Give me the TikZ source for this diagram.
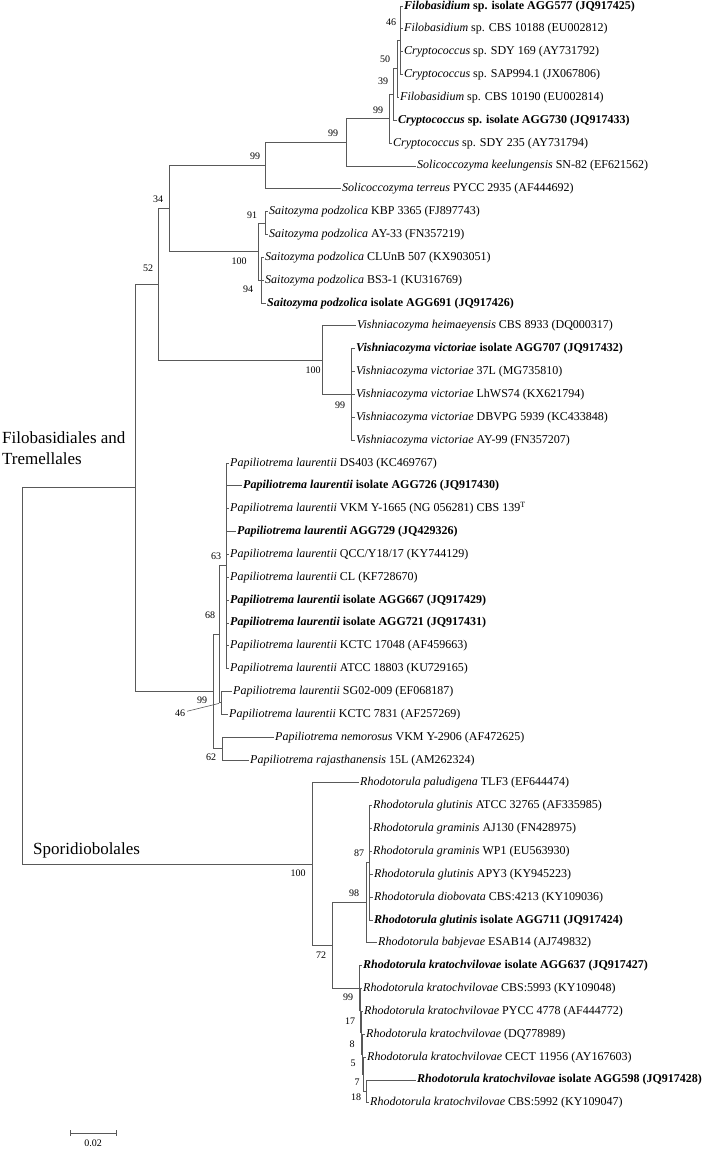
\documentclass[tikz,border=0pt]{standalone}
\usepackage{fontspec}
\setmainfont{Liberation Serif}
\usetikzlibrary{arrows.meta}

% row of leaf i, counted from the top
\pgfmathdeclarefunction{ly}{1}{\pgfmathparse{6+22.85*(#1-1)}}
\newcommand{\taxon}[2]{\textit{#1} #2}
\newcommand{\taxonb}[2]{\textbf{\textit{#1} #2}}

\tikzset{
  branch/.style={draw=black!65, line width=0.9pt},
  leaf/.style={anchor=west, inner sep=1pt, text height=8.5pt, text depth=2.5pt, font=\fontsize{12}{14}\selectfont},
  bs/.style={inner sep=0pt, font=\fontsize{10}{12}\selectfont},
  clade/.style={anchor=west, align=left, inner sep=0pt, font=\fontsize{17}{21}\selectfont},
}

\begin{document}
\begin{tikzpicture}[x=1pt, y=-1pt]
  \useasboundingbox (0,0) rectangle (707,1149);

  % leaves
  \node[leaf] (l1) at (403,{ly(1)}) {\taxonb{Filobasidium}{sp. isolate AGG577 (JQ917425)}};
  \node[leaf] (l2) at (403,{ly(2)}) {\taxon{Filobasidium}{sp. CBS 10188 (EU002812)}};
  \node[leaf] (l3) at (403,{ly(3)}) {\taxon{Cryptococcus}{sp. SDY 169 (AY731792)}};
  \node[leaf] (l4) at (403,{ly(4)}) {\taxon{Cryptococcus}{sp. SAP994.1 (JX067806)}};
  \node[leaf] (l5) at (399,{ly(5)}) {\taxon{Filobasidium}{sp. CBS 10190 (EU002814)}};
  \node[leaf] (l6) at (397,{ly(6)}) {\taxonb{Cryptococcus}{sp. isolate AGG730 (JQ917433)}};
  \node[leaf] (l7) at (392,{ly(7)}) {\taxon{Cryptococcus}{sp. SDY 235 (AY731794)}};
  \node[leaf] (l8) at (416,{ly(8)}) {\taxon{Solicoccozyma keelungensis}{SN-82 (EF621562)}};
  \node[leaf] (l9) at (341,{ly(9)}) {\taxon{Solicoccozyma terreus}{PYCC 2935 (AF444692)}};
  \node[leaf] (l10) at (268,{ly(10)}) {\taxon{Saitozyma podzolica}{KBP 3365 (FJ897743)}};
  \node[leaf] (l11) at (268,{ly(11)}) {\taxon{Saitozyma podzolica}{AY-33 (FN357219)}};
  \node[leaf] (l12) at (264,{ly(12)}) {\taxon{Saitozyma podzolica}{CLUnB 507 (KX903051)}};
  \node[leaf] (l13) at (264,{ly(13)}) {\taxon{Saitozyma podzolica}{BS3-1 (KU316769)}};
  \node[leaf] (l14) at (266,{ly(14)}) {\taxonb{Saitozyma podzolica}{isolate AGG691 (JQ917426)}};
  \node[leaf] (l15) at (356,{ly(15)}) {\taxon{Vishniacozyma heimaeyensis}{CBS 8933 (DQ000317)}};
  \node[leaf] (l16) at (355,{ly(16)}) {\taxonb{Vishniacozyma victoriae}{isolate AGG707 (JQ917432)}};
  \node[leaf] (l17) at (355,{ly(17)}) {\taxon{Vishniacozyma victoriae}{37L (MG735810)}};
  \node[leaf] (l18) at (355,{ly(18)}) {\taxon{Vishniacozyma victoriae}{LhWS74 (KX621794)}};
  \node[leaf] (l19) at (355,{ly(19)}) {\taxon{Vishniacozyma victoriae}{DBVPG 5939 (KC433848)}};
  \node[leaf] (l20) at (355,{ly(20)}) {\taxon{Vishniacozyma victoriae}{AY-99 (FN357207)}};
  \node[leaf] (l21) at (229,{ly(21)}) {\taxon{Papiliotrema laurentii}{DS403 (KC469767)}};
  \node[leaf] (l22) at (242,{ly(22)}) {\taxonb{Papiliotrema laurentii}{isolate AGG726 (JQ917430)}};
  \node[leaf] (l23) at (229,{ly(23)}) {\taxon{Papiliotrema laurentii}{VKM Y-1665 (NG 056281) CBS 139\textsuperscript{T}}};
  \node[leaf] (l24) at (236,{ly(24)}) {\taxonb{Papiliotrema laurentii}{AGG729 (JQ429326)}};
  \node[leaf] (l25) at (229,{ly(25)}) {\taxon{Papiliotrema laurentii}{QCC/Y18/17 (KY744129)}};
  \node[leaf] (l26) at (229,{ly(26)}) {\taxon{Papiliotrema laurentii}{CL (KF728670)}};
  \node[leaf] (l27) at (229,{ly(27)}) {\taxonb{Papiliotrema laurentii}{isolate AGG667 (JQ917429)}};
  \node[leaf] (l28) at (229,{ly(28)}) {\taxonb{Papiliotrema laurentii}{isolate AGG721 (JQ917431)}};
  \node[leaf] (l29) at (229,{ly(29)}) {\taxon{Papiliotrema laurentii}{KCTC 17048 (AF459663)}};
  \node[leaf] (l30) at (229,{ly(30)}) {\taxon{Papiliotrema laurentii}{ATCC 18803 (KU729165)}};
  \node[leaf] (l31) at (232,{ly(31)}) {\taxon{Papiliotrema laurentii}{SG02-009 (EF068187)}};
  \node[leaf] (l32) at (228,{ly(32)}) {\taxon{Papiliotrema laurentii}{KCTC 7831 (AF257269)}};
  \node[leaf] (l33) at (274,{ly(33)}) {\taxon{Papiliotrema nemorosus}{VKM Y-2906 (AF472625)}};
  \node[leaf] (l34) at (249,{ly(34)}) {\taxon{Papiliotrema rajasthanensis}{15L (AM262324)}};
  \node[leaf] (l35) at (359,{ly(35)}) {\taxon{Rhodotorula paludigena}{TLF3 (EF644474)}};
  \node[leaf] (l36) at (372,{ly(36)}) {\taxon{Rhodotorula glutinis}{ATCC 32765 (AF335985)}};
  \node[leaf] (l37) at (372,{ly(37)}) {\taxon{Rhodotorula graminis}{AJ130 (FN428975)}};
  \node[leaf] (l38) at (372,{ly(38)}) {\taxon{Rhodotorula graminis}{WP1 (EU563930)}};
  \node[leaf] (l39) at (373,{ly(39)}) {\taxon{Rhodotorula glutinis}{APY3 (KY945223)}};
  \node[leaf] (l40) at (373,{ly(40)}) {\taxon{Rhodotorula diobovata}{CBS:4213 (KY109036)}};
  \node[leaf] (l41) at (373,{ly(41)}) {\taxonb{Rhodotorula glutinis}{isolate AGG711 (JQ917424)}};
  \node[leaf] (l42) at (377,{ly(42)}) {\taxon{Rhodotorula babjevae}{ESAB14 (AJ749832)}};
  \node[leaf] (l43) at (362,{ly(43)}) {\taxonb{Rhodotorula kratochvilovae}{isolate AGG637 (JQ917427)}};
  \node[leaf] (l44) at (362,{ly(44)}) {\taxon{Rhodotorula kratochvilovae}{CBS:5993 (KY109048)}};
  \node[leaf] (l45) at (363,{ly(45)}) {\taxon{Rhodotorula kratochvilovae}{PYCC 4778 (AF444772)}};
  \node[leaf] (l46) at (365,{ly(46)}) {\taxon{Rhodotorula kratochvilovae}{(DQ778989)}};
  \node[leaf] (l47) at (366,{ly(47)}) {\taxon{Rhodotorula kratochvilovae}{CECT 11956 (AY167603)}};
  \node[leaf] (l48) at (416,{ly(48)}) {\taxonb{Rhodotorula kratochvilovae}{isolate AGG598 (JQ917428)}};
  \node[leaf] (l49) at (369,{ly(49)}) {\taxon{Rhodotorula kratochvilovae}{CBS:5992 (KY109047)}};

  % internal nodes
  \coordinate (n46) at (400,{ly(2.5)});
  \coordinate (n50) at (397,{ly(3.75)});
  \coordinate (n39) at (393,{ly(4.875)});
  \coordinate (n99a) at (389,{ly(5.9375)});
  \coordinate (n99c) at (346,{ly(6.97)});
  \coordinate (n99b) at (265,{ly(7.98)});
  \coordinate (n91) at (265,{ly(10.5)});
  \coordinate (n94) at (261,{ly(13)});
  \coordinate (n100s) at (258,{ly(11.75)});
  \coordinate (n34) at (169,{ly(9.87)});
  \coordinate (n99v) at (351,{ly(18)});
  \coordinate (n100v) at (322,{ly(16.5)});
  \coordinate (n52) at (158,{ly(13.19)});
  \coordinate (n63) at (226,{ly(25.5)});
  \coordinate (n46p) at (221,{ly(31.5)});
  \coordinate (n68) at (219,{ly(28.5)});
  \coordinate (n62) at (222,{ly(33.5)});
  \coordinate (n99p) at (213,{ly(31)});
  \coordinate (nFT) at (135,{ly(22.09)});
  \coordinate (n87) at (369,{ly(38.5)});
  \coordinate (n98) at (366,{ly(40.25)});
  \coordinate (n18) at (366,{ly(48.5)});
  \coordinate (n7) at (363,{ly(47.75)});
  \coordinate (n5) at (362,{ly(46.875)});
  \coordinate (n8) at (361,{ly(45.94)});
  \coordinate (n17) at (360,{ly(44.97)});
  \coordinate (n99k) at (359,{ly(43.98)});
  \coordinate (n72) at (332,{ly(42.12)});
  \coordinate (n100r) at (312,{ly(38.56)});
  \coordinate (root) at (22,{ly(30.3)});

  % branches
  \foreach \p/\kids in {n46/{l1,l2,l3,l4}, n50/{n46,l5}, n39/{n50,l6}, n99a/{n39,l7},
      n99c/{n99a,l8}, n99b/{n99c,l9}, n91/{l10,l11}, n94/{l12,l13,l14},
      n100s/{n91,n94}, n34/{n99b,n100s}, n99v/{l16,l17,l18,l19,l20},
      n100v/{l15,n99v}, n52/{n34,n100v},
      n63/{l21,l22,l23,l24,l25,l26,l27,l28,l29,l30}, n46p/{l31,l32},
      n68/{n63,n46p}, n62/{l33,l34}, n99p/{n68,n62}, nFT/{n52,n99p},
      n87/{l36,l37,l38,l39,l40,l41}, n98/{n87,l42},
      n18/{l48,l49}, n7/{l47,n18}, n5/{l46,n7}, n8/{l45,n5}, n17/{l44,n8}, n99k/{l43,n17},
      n72/{n98,n99k}, n100r/{l35,n72}, root/{nFT,n100r}}
    \foreach \c in \kids
      \draw[branch] (\p) |- (\c);

  % bootstrap values
  \node[bs] (b46) at (391,22) {46};
  \node[bs] (b50) at (385,59) {50};
  \node[bs] (b39) at (383,81) {39};
  \node[bs] (b99a) at (378,110) {99};
  \node[bs] (b99c) at (333,133) {99};
  \node[bs] (b99b) at (255,156) {99};
  \node[bs] (b34) at (158,199) {34};
  \node[bs] (b52) at (148,268) {52};
  \node[bs] (b91) at (252,215) {91};
  \node[bs] (b100s) at (239,261) {100};
  \node[bs] (b94) at (248,289) {94};
  \node[bs] (b100v) at (313,370) {100};
  \node[bs] (b99v) at (340,405) {99};
  \node[bs] (b63) at (216,556) {63};
  \node[bs] (b68) at (210,615) {68};
  \node[bs] (b99p) at (202,700) {99};
  \node[bs] (b46p) at (180,713) {46};
  \node[bs] (b62) at (211,757) {62};
  \node[bs] (b100r) at (298,873) {100};
  \node[bs] (b87) at (359,853) {87};
  \node[bs] (b98) at (354,893) {98};
  \node[bs] (b72) at (321,955) {72};
  \node[bs] (b99k) at (348,997) {99};
  \node[bs] (b17) at (350,1021) {17};
  \node[bs] (b8) at (352,1044) {8};
  \node[bs] (b5) at (353,1063) {5};
  \node[bs] (b7) at (357,1082) {7};
  \node[bs] (b18) at (356,1097) {18};
  \draw[draw=black!65, line width=0.6pt, shorten >=2pt, shorten <=2pt] (b46p) -- (n46p);

  % clade names
  \node[clade] (cFT) at (2,448) {Filobasidiales and\\Tremellales};
  \node[clade] (cSp) at (33,850) {Sporidiobolales};

  % scale bar
  \coordinate (sbL) at (70,1133);
  \coordinate (sbR) at (117,1133);
  \draw[branch, {Bar[width=6pt]}-{Bar[width=6pt]}] (sbL) -- (sbR);
  \node[bs] (sb) at (93,1143) {0.02};
\end{tikzpicture}
\end{document}
